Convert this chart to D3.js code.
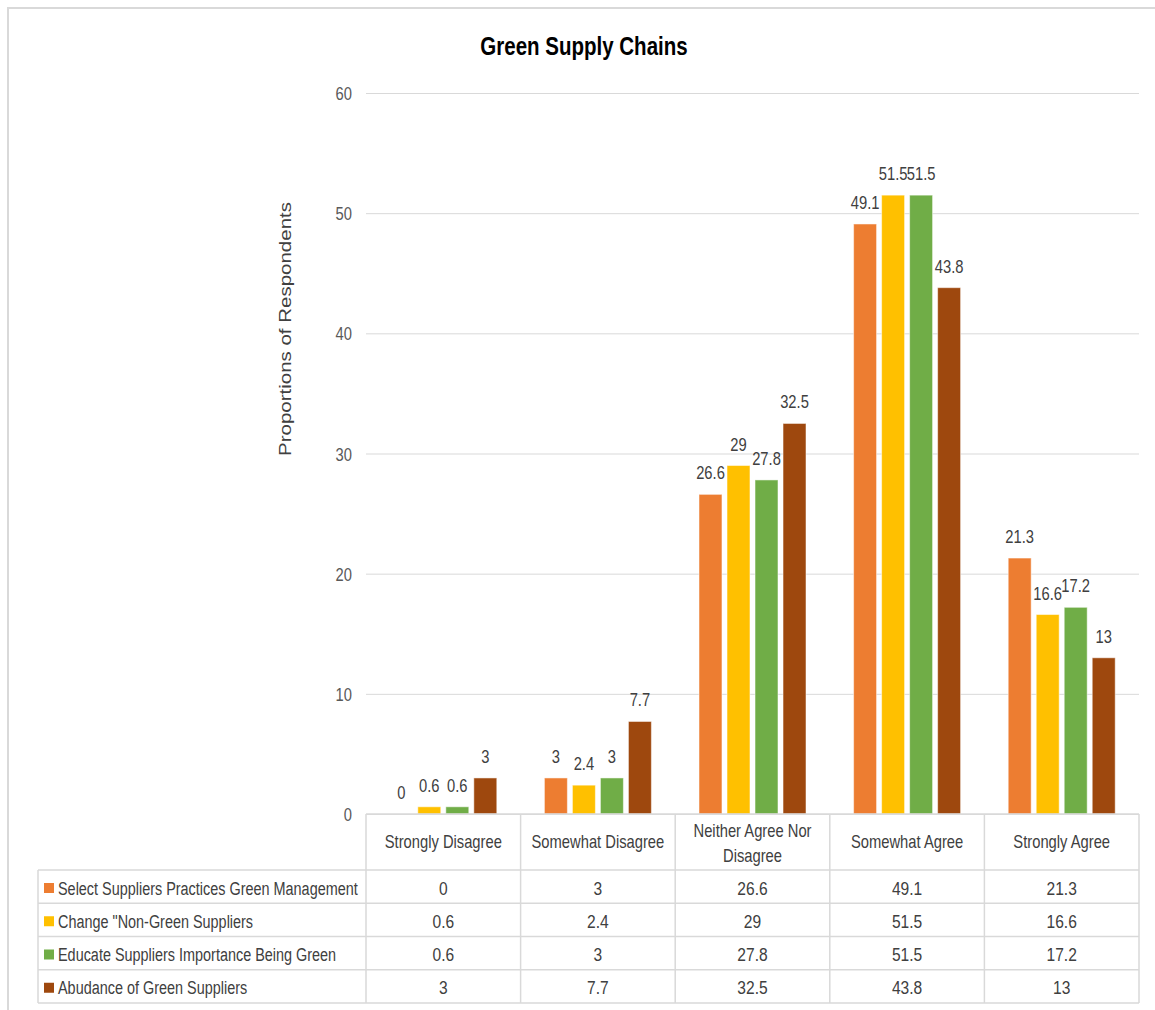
<!DOCTYPE html>
<html>
<head>
<meta charset="utf-8">
<script src="https://cdn.jsdelivr.net/npm/d3@7"></script>
<style>
  html, body { margin: 0; padding: 0; background: #fff; }
  svg { display: block; }
  text { font-family: "Liberation Sans", Arial, sans-serif; }
</style>
</head>
<body>
<svg id="chart" width="1155" height="1010"></svg>
<script>
const title = "Green Supply Chains";
const yAxisTitle = "Proportions of Respondents";
const categories = ["Strongly Disagree", "Somewhat Disagree", "Neither Agree Nor Disagree", "Somewhat Agree", "Strongly Agree"];
const categoryLines = [["Strongly Disagree"], ["Somewhat Disagree"], ["Neither Agree Nor", "Disagree"], ["Somewhat Agree"], ["Strongly Agree"]];
const seriesNames = ["Select Suppliers Practices Green Management", "Change \"Non-Green Suppliers", "Educate Suppliers Importance Being Green", "Abudance of Green Suppliers"];
const seriesColors = ["#ED7D31", "#FFC000", "#70AD47", "#9E480E"];
const selectSuppliers = [0, 3, 26.6, 49.1, 21.3];
const changeNonGreen = [0.6, 2.4, 29, 51.5, 16.6];
const educateSuppliers = [0.6, 3, 27.8, 51.5, 17.2];
const abundance = [3, 7.7, 32.5, 43.8, 13];
const yTicks = [0, 10, 20, 30, 40, 50, 60];

const seriesValues = [selectSuppliers, changeNonGreen, educateSuppliers, abundance];

const SX = 0.82; // horizontal condensing of text, like the reference
const svg = d3.select("#chart");
const plotLeft = 366, plotRight = 1139, plotTop = 93, plotBottom = 814;
const tableLeft = 38;
const headerBottom = 870;
const rowH = 33.25;
const textColor = "#404040";

function txt(parent, x, y, str, size, anchor, extra) {
  const t = parent.append("text")
    .attr("transform", `translate(${x},${y}) scale(${SX},1)`)
    .attr("text-anchor", anchor || "start")
    .attr("font-size", size)
    .attr("fill", textColor)
    .text(str);
  if (extra) extra(t);
  return t;
}

// frame
svg.append("path").attr("d", "M8,1010 V8 H1155").attr("fill", "none").attr("stroke", "#d9d9d9").attr("stroke-width", 2);

const x0 = d3.scaleBand().domain(categories).range([plotLeft, plotRight]).padding(0);
const x1 = d3.scaleBand().domain(seriesNames).range([0, x0.bandwidth()]).paddingInner(0.18).paddingOuter(0.85);
const y = d3.scaleLinear().domain([0, 60]).range([plotBottom, plotTop]);

// gridlines + tick labels
const yAxis = d3.axisLeft(y).tickValues(yTicks).tickSize(-(plotRight - plotLeft)).tickPadding(14).tickFormat(d3.format("d"));
const gy = svg.append("g").attr("transform", `translate(${plotLeft},0)`).call(yAxis);
gy.select(".domain").remove();
gy.selectAll(".tick line").attr("stroke", "#d9d9d9").attr("stroke-width", 1);
gy.selectAll(".tick text")
  .attr("x", null).attr("dy", null)
  .attr("transform", `translate(-14,6.5) scale(${SX},1)`)
  .attr("fill", "#595959").attr("font-size", 18)
  .attr("font-family", "'Liberation Sans', Arial, sans-serif");

// title
txt(svg, 584, 55, title, 25, "middle", t => t.attr("font-weight", "bold").attr("fill", "#000"));

// y axis title (condensed across its thickness)
svg.append("text").attr("transform", `translate(291,329) rotate(-90) scale(1,${SX})`).attr("text-anchor", "middle")
  .attr("font-size", 20.5).attr("fill", textColor).text(yAxisTitle);

// bars
const groups = svg.append("g").selectAll("g").data(categories).join("g")
  .attr("transform", d => `translate(${x0(d)},0)`);
groups.each(function(cat, ci) {
  const g = d3.select(this);
  seriesNames.forEach((s, si) => {
    const v = seriesValues[si][ci];
    g.append("rect").attr("x", x1(s)).attr("y", y(v)).attr("width", x1.bandwidth())
      .attr("height", y(0) - y(v)).attr("fill", seriesColors[si])
      .attr("stroke", "#fff").attr("stroke-opacity", 0.5).attr("stroke-width", 1);
    txt(g, x1(s) + x1.bandwidth() / 2, y(v) - 15, v, 18, "middle");
  });
});

// data table
const tg = svg.append("g");
const lineColor = "#d9d9d9";
const nRows = seriesNames.length;
const tableBottom = headerBottom + nRows * rowH;
tg.append("line").attr("x1", plotLeft).attr("x2", plotRight).attr("y1", plotBottom).attr("y2", plotBottom).attr("stroke", lineColor).attr("stroke-width", 1.5);
for (let r = 0; r <= nRows; r++) {
  const yy = headerBottom + r * rowH;
  tg.append("line").attr("x1", tableLeft).attr("x2", plotRight).attr("y1", yy).attr("y2", yy).attr("stroke", lineColor).attr("stroke-width", 1.5);
}
tg.append("line").attr("x1", tableLeft).attr("x2", tableLeft).attr("y1", headerBottom).attr("y2", tableBottom).attr("stroke", lineColor).attr("stroke-width", 1.5);
categories.forEach(c => {
  tg.append("line").attr("x1", x0(c)).attr("x2", x0(c)).attr("y1", plotBottom).attr("y2", tableBottom).attr("stroke", lineColor).attr("stroke-width", 1.5);
});
tg.append("line").attr("x1", plotRight).attr("x2", plotRight).attr("y1", plotBottom).attr("y2", tableBottom).attr("stroke", lineColor).attr("stroke-width", 1.5);

// header labels
categoryLines.forEach((lines, ci) => {
  const cx = x0(categories[ci]) + x0.bandwidth() / 2;
  const startY = lines.length === 1 ? 848 : 837;
  lines.forEach((ln, li) => {
    txt(tg, cx, startY + li * 25, ln, 18, "middle");
  });
});

// rows
seriesNames.forEach((s, si) => {
  const rowTop = headerBottom + si * rowH;
  tg.append("rect").attr("x", 44).attr("y", rowTop + 13).attr("width", 10).attr("height", 10).attr("fill", seriesColors[si]);
  txt(tg, 58, rowTop + 24.5, s, 17.6, "start");
  categories.forEach((c, ci) => {
    txt(tg, x0(c) + x0.bandwidth() / 2, rowTop + 24.5, seriesValues[si][ci], 19, "middle");
  });
});
</script>
</body>
</html>
